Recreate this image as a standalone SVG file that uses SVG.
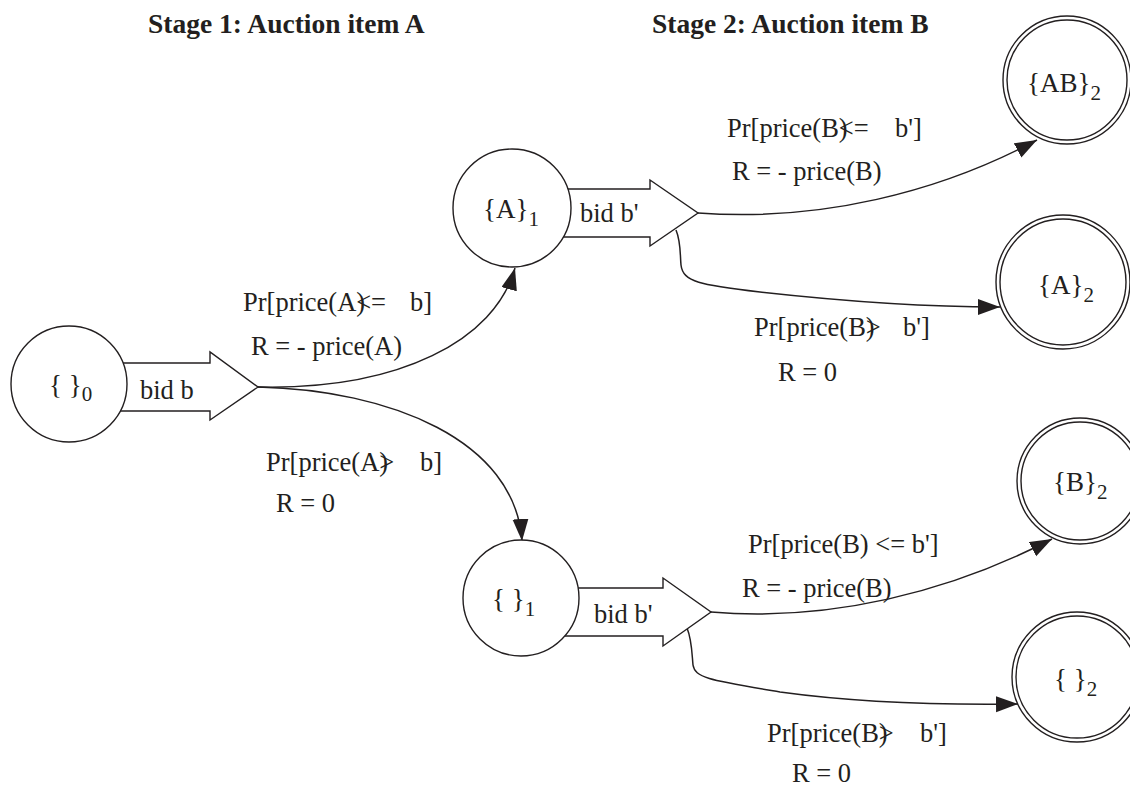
<svg xmlns="http://www.w3.org/2000/svg" width="1130" height="787" viewBox="0 0 1130 787">
<defs>
<style>
text{font-family:"Liberation Serif","Times New Roman",serif;fill:#231f20;}
.t{font-size:26.5px;}
.h{font-size:27.5px;font-weight:bold;}
.n{font-size:27px;}
.s{font-size:21px;}
.c{fill:#fff;stroke:#231f20;stroke-width:1.4;}
.blk{fill:#fff;stroke:#231f20;stroke-width:1.4;stroke-linejoin:miter;}
.e{fill:none;stroke:#231f20;stroke-width:1.5;marker-end:url(#ah);}
</style>
<marker id="ah" markerUnits="userSpaceOnUse" markerWidth="24" markerHeight="18" refX="22" refY="8" orient="auto">
<path d="M0,0 L22,8 L0,16 z" fill="#231f20"/>
</marker>
</defs>
<rect width="1130" height="787" fill="#fff"/>

<text class="h" x="148" y="33">Stage 1: Auction item A</text>
<text class="h" x="652" y="33">Stage 2: Auction item B</text>

<g id="connectors">
<path class="e" d="M258,387 C400,390 495,340 515,268"/>
<path class="e" d="M258,387 C390,390 515,440 522,541"/>
<path class="e" d="M698,213 C820,222 940,192 1037,140"/>
<path class="e" d="M676,230 C681,242 680,255 681,265 C683,282 700,285 760,292 C850,302 930,307 1000,307"/>
<path class="e" d="M711,612 C830,622 950,592 1052,539"/>
<path class="e" d="M687,628 C692,640 692,655 693,665 C695,678 710,680 780,692 C860,703 940,705 1018,704"/>
</g>

<g id="node-s0">
<polygon class="blk" points="80,363 210,363 210,352 258,387 210,420 210,411 80,411"/>
<circle class="c" cx="69" cy="384" r="58"/>
<text class="n" x="49" y="394">{ }<tspan class="s" dy="7">0</tspan></text>
<text class="t" x="140" y="399">bid b</text>
</g>

<g id="node-a1">
<polygon class="blk" points="530,189 650,189 650,180 698,213 650,246 650,237 530,237"/>
<circle class="c" cx="512" cy="208" r="59"/>
<text class="n" x="483" y="218">{A}<tspan class="s" dy="8">1</tspan></text>
<text class="t" x="580" y="222">bid b'</text>
</g>

<g id="node-e1">
<polygon class="blk" points="540,588 663,588 663,578 711,612 663,646 663,636 540,636"/>
<circle class="c" cx="521" cy="598" r="58"/>
<text class="n" x="492" y="608">{ }<tspan class="s" dy="8">1</tspan></text>
<text class="t" x="594" y="623">bid b'</text>
</g>

<g id="node-ab2">
<circle class="c" cx="1067" cy="80" r="64"/>
<circle class="c" cx="1067" cy="80" r="60"/>
<text class="n" x="1027" y="92">{AB}<tspan class="s" dy="8">2</tspan></text>
</g>

<g id="node-a2">
<circle class="c" cx="1063" cy="282" r="67"/>
<circle class="c" cx="1063" cy="282" r="63"/>
<text class="n" x="1038" y="294">{A}<tspan class="s" dy="8">2</tspan></text>
</g>

<g id="node-b2">
<circle class="c" cx="1080" cy="481" r="63"/>
<circle class="c" cx="1080" cy="481" r="59"/>
<text class="n" x="1053" y="491">{B}<tspan class="s" dy="8">2</tspan></text>
</g>

<g id="node-e2">
<circle class="c" cx="1077" cy="677" r="65"/>
<circle class="c" cx="1077" cy="677" r="61"/>
<text class="n" x="1054" y="688">{ }<tspan class="s" dy="8">2</tspan></text>
</g>

<g id="labels">
<text class="t" x="243" y="311">Pr[price(A)<tspan dx="-9">&lt;=</tspan><tspan x="410">b]</tspan></text>
<text class="t" x="251" y="355">R = - price(A)</text>
<text class="t" x="266" y="471">Pr[price(A)<tspan dx="-9">&gt;</tspan><tspan x="420">b]</tspan></text>
<text class="t" x="276" y="512">R = 0</text>
<text class="t" x="727" y="137">Pr[price(B)<tspan dx="-9">&lt;=</tspan><tspan x="895">b']</tspan></text>
<text class="t" x="732" y="180">R = - price(B)</text>
<text class="t" x="754" y="336">Pr[price(B)<tspan dx="-9">&gt;</tspan><tspan x="903">b']</tspan></text>
<text class="t" x="778" y="381">R = 0</text>
<text class="t" x="748" y="553">Pr[price(B) &lt;= b']</text>
<text class="t" x="742" y="597">R = - price(B)</text>
<text class="t" x="767" y="742">Pr[price(B)<tspan dx="-9">&gt;</tspan><tspan x="920">b']</tspan></text>
<text class="t" x="792" y="782">R = 0</text>
</g>
</svg>
